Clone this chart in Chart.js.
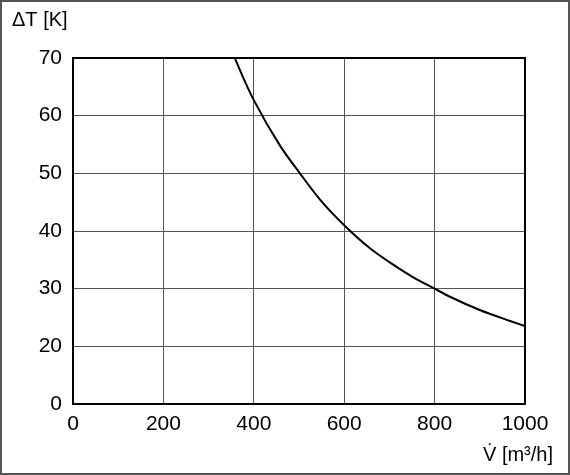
<!DOCTYPE html>
<html>
<head>
<meta charset="utf-8">
<script src="https://cdn.jsdelivr.net/npm/chart.js@4/dist/chart.umd.min.js"></script>
<style>
  html, body { margin: 0; padding: 0; background: #fff; }
  canvas { display: block; }
</style>
</head>
<body>
<canvas id="dtChart" width="570" height="475"></canvas>
<script>
// values
const flowRates = [358, 380, 400, 458, 502, 546, 600, 657, 700, 750, 800, 834, 900, 967, 1000];
const deltaT = [70, 66.0, 62.7, 54.8, 50, 45.5, 41.0, 37.0, 34.6, 32.1, 30, 28.6, 26.3, 24.4, 23.5];
// the y axis is broken: bottom line is labelled 0, next one 20
const yTickLabels = ['0', '20', '30', '40', '50', '60', '70'];
const xTickLabels = ['0', '200', '400', '600', '800', '1000'];

const FONT = "'Liberation Sans', Arial, sans-serif";

const frame = {
  id: 'frame',
  beforeDraw(chart) {
    const c = chart.ctx;
    c.save();
    c.fillStyle = '#fff';
    c.fillRect(0, 0, chart.width, chart.height);
    c.restore();
  },
  afterDraw(chart) {
    const c = chart.ctx;
    const a = chart.chartArea;
    c.save();
    // outer picture border
    c.strokeStyle = '#555';
    c.lineWidth = 2;
    c.strokeRect(1, 1, chart.width - 2, chart.height - 2);
    // plot box
    c.strokeStyle = '#000';
    c.lineWidth = 2;
    c.strokeRect(a.left, a.top, a.right - a.left, a.bottom - a.top);
    // axis titles
    c.fillStyle = '#000';
    c.font = '20px ' + FONT;
    c.textBaseline = 'middle';
    c.textAlign = 'left';
    c.fillText('\u0394T [K]', 12, 20);
    c.textAlign = 'right';
    c.fillText('V\u0307 [m\u00B3/h]', 553, 455);
    c.restore();
  }
};

new Chart(document.getElementById('dtChart'), {
  type: 'line',
  data: {
    datasets: [{
      data: flowRates.map((v, i) => ({ x: v, y: deltaT[i] })),
      borderColor: '#000',
      borderWidth: 2,
      pointRadius: 0,
      fill: false,
      cubicInterpolationMode: 'monotone'
    }]
  },
  options: {
    responsive: false,
    animation: false,
    layout: { padding: { left: 0, top: 58, right: 45, bottom: 0 } },
    plugins: { legend: { display: false }, tooltip: { enabled: false } },
    scales: {
      x: {
        type: 'linear',
        min: 0,
        max: 1000,
        afterFit(s) { s.height = 71; },
        grid: { color: '#555', lineWidth: 1, drawTicks: false },
        border: { display: false },
        ticks: {
          stepSize: 200,
          padding: 8,
          color: '#000',
          font: { family: FONT, size: 21 },
          callback: (v, i) => xTickLabels[i]
        }
      },
      y: {
        type: 'linear',
        min: 10,
        max: 70,
        afterFit(s) { s.width = 73; },
        grid: { color: '#555', lineWidth: 1, drawTicks: false },
        border: { display: false },
        ticks: {
          stepSize: 10,
          padding: 11,
          color: '#000',
          font: { family: FONT, size: 21 },
          callback: (v, i) => yTickLabels[i]
        }
      }
    }
  },
  plugins: [frame]
});
</script>
</body>
</html>
